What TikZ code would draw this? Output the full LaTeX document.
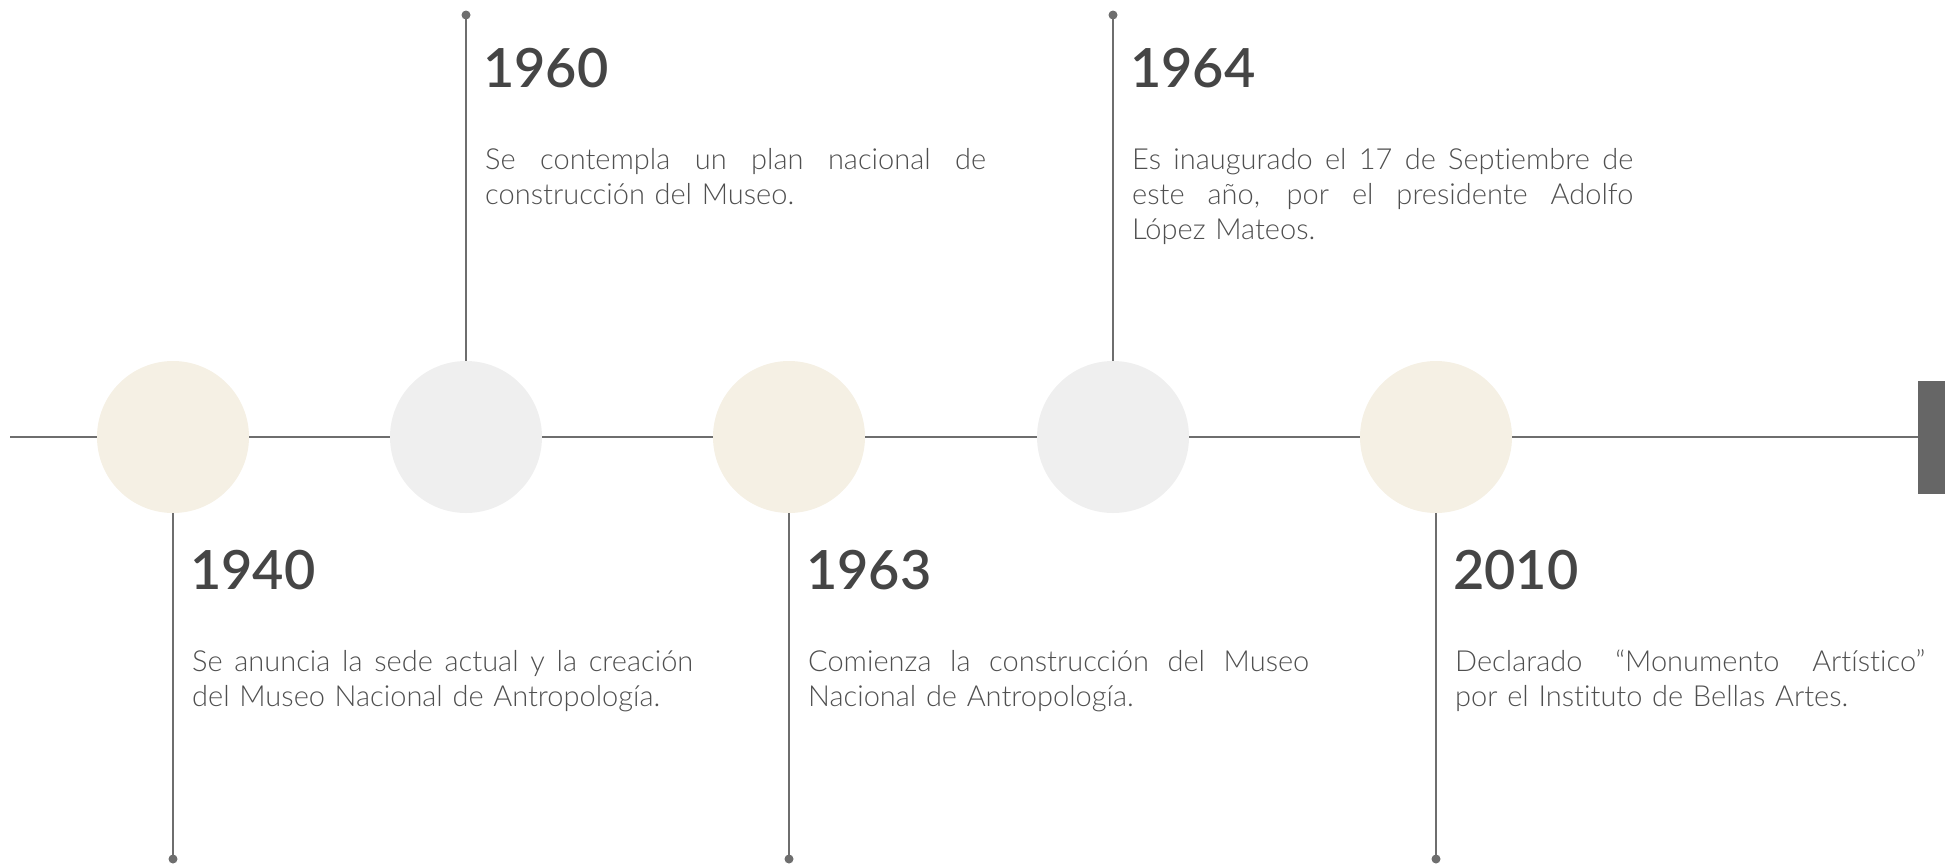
\documentclass[tikz,border=0pt]{standalone}
\usepackage{fontspec}
\setmainfont{Lato}
\newfontfamily\bodyfont{Lato Light}[Ligatures=NoCommon]
\newfontfamily\yearfont{Lato Semibold}
\definecolor{lineC}{HTML}{6E6E6E}
\definecolor{barC}{HTML}{666666}
\definecolor{beige}{HTML}{F5F0E4}
\definecolor{greyC}{HTML}{EFEFEF}
\definecolor{yearC}{HTML}{454545}
\definecolor{bodyC}{HTML}{4F4F4F}
\tikzset{
  disc/.style={circle, minimum size=152pt, inner sep=0pt, draw=none},
  beigedisc/.style={disc, fill=beige},
  greydisc/.style={disc, fill=greyC},
  tline/.style={draw=lineC, line width=2.2pt},
  vline/.style={draw=lineC, line width=2pt},
  enddot/.style={circle, fill=lineC, minimum size=9pt, inner sep=0pt},
  yeartext/.style={anchor=base west, inner sep=0pt, text=yearC, font=\yearfont\fontsize{54}{60}\selectfont},
  bodytext/.style={anchor=base west, inner sep=0pt, text=bodyC, text width=501pt, align=left, font=\bodyfont\fontsize{29}{35}\selectfont},
}
\newcommand{\jline}[2][501pt]{\leavevmode\hbox to #1{\spaceskip=\fontdimen2\font plus 1fil\relax #2}}
\begin{document}
\begin{tikzpicture}[x=1pt,y=-1pt]
\useasboundingbox (0,0) rectangle (1954,863);
% circles
\node[beigedisc] (c1) at (173,437) {};
\node[greydisc]  (c2) at (466,437) {};
\node[beigedisc] (c3) at (789,437) {};
\node[greydisc]  (c4) at (1113,437) {};
\node[beigedisc] (c5) at (1436,437) {};
\node[rectangle, fill=barC, minimum width=27pt, minimum height=113pt, inner sep=0pt] (bar) at (1931.5,437) {};
\coordinate (start) at (10,437);
% main line
\draw[tline] (start) -- (c1.west);
\draw[tline] (c1.east) -- (c2.west);
\draw[tline] (c2.east) -- (c3.west);
\draw[tline] (c3.east) -- (c4.west);
\draw[tline] (c4.east) -- (c5.west);
\draw[tline] (c5.east) -- (bar.west);
% end dots
\node[enddot] (d1) at (173,859) {};
\node[enddot] (d2) at (466,15) {};
\node[enddot] (d3) at (789,859) {};
\node[enddot] (d4) at (1113,15) {};
\node[enddot] (d5) at (1436,859) {};
\draw[vline] (c1.south) -- (d1.center);
\draw[vline] (c2.north) -- (d2.center);
\draw[vline] (c3.south) -- (d3.center);
\draw[vline] (c4.north) -- (d4.center);
\draw[vline] (c5.south) -- (d5.center);
% texts
\node[yeartext] (y1) at (190,589) {1940};
\node[bodytext] (t1) at (192,671) {\jline{Se anuncia la sede actual y la creación}\\del Museo Nacional de Antropología.};
\node[yeartext] (y2) at (483,87) {1960};
\node[bodytext] (t2) at (485,169) {\jline{Se contempla un plan nacional de}\\construcción del Museo.};
\node[yeartext] (y3) at (806,589) {1963};
\node[bodytext] (t3) at (808,671) {\jline{Comienza la construcción del Museo}\\Nacional de Antropología.};
\node[yeartext] (y4) at (1130,87) {1964};
\node[bodytext] (t4) at (1132,169) {\jline{Es inaugurado el 17 de Septiembre de}\\\jline{este año, por el presidente Adolfo}\\López Mateos.};
\node[yeartext] (y5) at (1453,589) {2010};
\node[bodytext, text width=470pt] (t5) at (1455,671) {\jline[470pt]{Declarado “Monumento Artístico”}\\por el Instituto de Bellas Artes.};
\end{tikzpicture}
\end{document}
